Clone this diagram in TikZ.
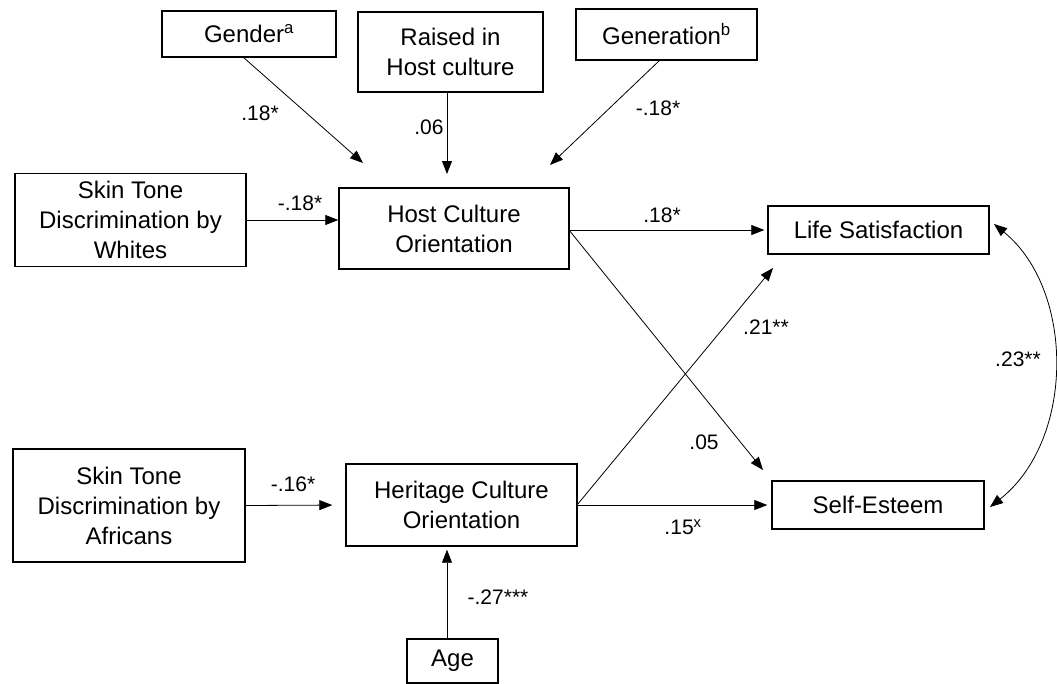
\documentclass[tikz,border=0pt]{standalone}
\usepackage{fontspec}
\setmainfont{Liberation Sans}
\usetikzlibrary{arrows.meta,calc}
\begin{document}
\begin{tikzpicture}[x=1pt,y=-1pt,
 box/.style={draw,line width=1.4pt,inner sep=0pt,align=center,font=\fontsize{24}{30}\selectfont},
 lab/.style={font=\fontsize{21}{25}\selectfont,inner sep=0pt},
 arr/.style={line width=0.8pt,-{Triangle[length=13pt,width=10pt]}},
 darr/.style={line width=0.8pt,{Triangle[length=13pt,width=10pt]}-{Triangle[length=13pt,width=10pt]}},
]
\useasboundingbox (0,0) rectangle (1057,683);
% boxes
\node[box,minimum width=174pt,minimum height=46pt] (gender) at (249,34) {Gender\textsuperscript{a}};
\node[box,minimum width=185pt,minimum height=80pt] (raised) at (450.5,52) {Raised in\\Host culture};
\node[box,minimum width=181pt,minimum height=51pt] (gen) at (666.5,34.5) {Generation\textsuperscript{b}};
\node[box,minimum width=231pt,minimum height=93pt] (whites) at (130.5,220) {Skin Tone\\Discrimination by\\Whites};
\node[box,minimum width=230pt,minimum height=81pt] (host) at (454,228.5) {Host Culture\\Orientation};
\node[box,minimum width=221pt,minimum height=48pt] (life) at (878.5,230) {Life Satisfaction};
\node[box,minimum width=232pt,minimum height=113pt] (afr) at (129,505.5) {Skin Tone\\Discrimination by\\Africans};
\node[box,minimum width=231pt,minimum height=82pt] (her) at (461.5,505) {Heritage Culture\\Orientation};
\node[box,minimum width=212pt,minimum height=48pt] (self) at (878,505) {Self-Esteem};
\node[box,minimum width=91pt,minimum height=44pt] (age) at (452.5,661) {Age};
% free ends
\coordinate (gtip) at (363,163);
\coordinate (gstart) at (243,57);
\coordinate (rtip) at (447,174);
\coordinate (rstart) at (447,92);
\coordinate (ntip) at (550,165);
\coordinate (nstart) at (660,60);
\coordinate (hs) at (569,230);
\coordinate (hetip) at (763,470);
\coordinate (ht) at (577,505);
\coordinate (ltip) at (773,268);
\coordinate (c1) at (994,224);
\coordinate (c2) at (990,507);
% arrows
\draw[arr] (gstart) -- (gtip);
\draw[arr] (rstart) -- (rtip);
\draw[arr] (nstart) -- (ntip);
\draw[arr] (whites.east) -- (whites.east -| host.west);
\draw[arr,shorten >=3pt] (hs) -- (hs -| life.west);
\draw[arr] (hs) -- (hetip);
\draw[arr,shorten >=13pt] (afr.east) -- (her.west);
\draw[arr] (ht) -- (ltip);
\draw[arr,shorten >=4pt] (ht) -- (ht -| self.west);
\draw[arr,shorten >=3pt] (age.north -| rtip) -- (her.south -| rtip);
\draw[darr] (c1) .. controls (1075,290) and (1075,440) .. (c2);
% labels
\node[lab] (l1) at (260,113) {.18*};
\node[lab] (l2) at (429,127) {.06};
\node[lab] (l3) at (658,108) {-.18*};
\node[lab] (l4) at (300,203) {-.18*};
\node[lab] (l5) at (662,215) {.18*};
\node[lab] (l6) at (766,327) {.21**};
\node[lab] (l7) at (704,442) {.05};
\node[lab] (l8) at (1018,359) {.23**};
\node[lab] (l9) at (293,484) {-.16*};
\node[lab] (l10) at (683,527) {.15\textsuperscript{x}};
\node[lab] (l11) at (498,597) {-.27***};
\end{tikzpicture}
\end{document}
